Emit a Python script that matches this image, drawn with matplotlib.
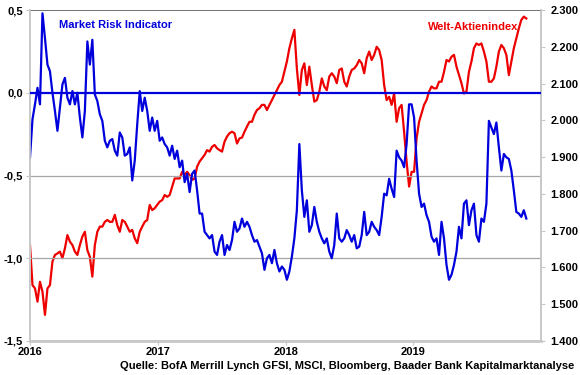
import numpy as np
import pandas as pd
import matplotlib
matplotlib.use('Agg')
import matplotlib.pyplot as plt
import matplotlib.dates as mdates

plt.rcParams['font.family'] = ['Liberation Sans', 'DejaVu Sans']
plt.rcParams['font.weight'] = 'bold'

# Market Risk Indicator (left axis), weekly readings 2016 -> Nov 2019
mri = [
    -0.39, -0.16, -0.07, 0.03, -0.07, 0.48, 0.33, 0.17, 0.13, 0.00,
    -0.11, -0.23, -0.09, 0.05, 0.09, -0.03, -0.07, 0.01, -0.07, 0.00,
    -0.15, -0.27, -0.11, 0.31, 0.17, 0.32, -0.01, -0.05, -0.13, -0.17,
    -0.29, -0.33, -0.29, -0.28, -0.35, -0.38, -0.24, -0.27, -0.38, -0.37,
    -0.33, -0.53, -0.41, -0.19, 0.01, -0.11, -0.03, -0.11, -0.23, -0.15,
    -0.23, -0.17, -0.29,
    -0.27, -0.31, -0.33, -0.38, -0.32, -0.40, -0.35, -0.45, -0.41, -0.54,
    -0.49, -0.60, -0.49, -0.47, -0.59, -0.73, -0.73, -0.84, -0.86, -0.88,
    -0.86, -0.96, -0.98, -0.90, -0.86, -0.98, -0.92, -0.95, -0.89, -0.78,
    -0.84, -0.82, -0.76, -0.81, -0.78, -0.81, -0.86, -0.90, -0.89, -0.93,
    -0.97, -1.07, -1.00, -0.98, -1.03, -0.95, -1.03, -1.08, -1.05, -1.07,
    -1.13, -1.08,
    -0.99, -0.88, -0.71, -0.31, -0.59, -0.75, -0.65, -0.84, -0.80, -0.69,
    -0.78, -0.84, -0.88, -0.91, -0.88, -0.96, -1.00, -0.92, -0.73, -0.88,
    -0.90, -0.88, -0.83, -0.86, -0.90, -0.86, -0.94, -0.93, -0.86, -0.72,
    -0.86, -0.84, -0.78, -0.81, -0.83, -0.86, -0.75, -0.61, -0.62, -0.52,
    -0.58, -0.63, -0.35, -0.39, -0.41, -0.45, -0.31, -0.07, -0.07, -0.15,
    -0.41, -0.61,
    -0.69, -0.67, -0.74, -0.78, -0.87, -0.90, -0.88, -0.98, -0.78, -0.88,
    -1.04, -1.13, -1.10, -1.04, -0.96, -0.81, -0.88, -0.67, -0.65, -0.80,
    -0.71, -0.67, -0.86, -0.90, -0.76, -0.78, -0.67, -0.17, -0.21, -0.25,
    -0.18, -0.33, -0.47, -0.37, -0.39, -0.40, -0.47, -0.59, -0.72, -0.73,
    -0.75, -0.71, -0.76,
]

# Welt-Aktienindex (right axis), same weekly dates
msci = [
    1661, 1552, 1543, 1507, 1561, 1534, 1471, 1543, 1552, 1616,
    1634, 1638, 1643, 1625, 1652, 1688, 1670, 1661, 1643, 1634,
    1661, 1684, 1697, 1647, 1629, 1575, 1661, 1697, 1711, 1711,
    1724, 1729, 1724, 1724, 1743, 1715, 1697, 1729, 1724, 1711,
    1697, 1702, 1679, 1666, 1697, 1711, 1724, 1729, 1770, 1756,
    1761, 1770, 1779,
    1783, 1797, 1792, 1797, 1820, 1842, 1842, 1842, 1860, 1851,
    1860, 1851, 1838, 1842, 1874, 1888, 1897, 1906, 1919, 1915,
    1928, 1933, 1924, 1919, 1915, 1942, 1956, 1965, 1969, 1965,
    1937, 1951, 1953, 1969, 1983, 1996, 1996, 2015, 2028, 2033,
    2042, 2042, 2028, 2042, 2055, 2069, 2082, 2096, 2105, 2132,
    2160, 2196,
    2223, 2246, 2141, 2069, 2137, 2155, 2096, 2146, 2096, 2051,
    2055, 2078, 2114, 2092, 2082, 2119, 2128, 2119, 2101, 2137,
    2141, 2105, 2092, 2119, 2137, 2141, 2150, 2164, 2155, 2128,
    2169, 2187, 2164, 2178, 2200, 2191, 2164, 2096, 2055, 2064,
    2042, 2073, 1996, 2033, 2042, 1969, 1888, 1820, 1860, 1860,
    1951, 1996,
    2019, 2042, 2055, 2078, 2092, 2087, 2087, 2105, 2105, 2132,
    2164, 2160, 2173, 2178, 2146, 2123, 2101, 2073, 2078, 2132,
    2160, 2196, 2209, 2205, 2209, 2187, 2160, 2105, 2105, 2114,
    2146, 2187, 2205, 2196, 2178, 2123, 2160, 2196, 2223, 2250,
    2273, 2282, 2277,
]

dates = pd.date_range('2016-01-01', '2019-11-20', periods=len(mri))

left_ticks = [0.5, 0.0, -0.5, -1.0, -1.5]
left_labels = ['0,5', '0,0', '-0,5', '-1,0', '-1,5']
right_ticks = [1400, 1500, 1600, 1700, 1800, 1900, 2000, 2100, 2200, 2300]
right_labels = ['1.400', '1.500', '1.600', '1.700', '1.800', '1.900',
                '2.000', '2.100', '2.200', '2.300']
years = ['2016', '2017', '2018', '2019']

blue = '#0000dd'
red = '#ee0000'
grey = '#c8c8c8'

fig = plt.figure(figsize=(5.8, 3.75), dpi=100)
ax = fig.add_axes([30 / 580, 34 / 375, 511 / 580, 331 / 375])
ax2 = ax.twinx()
ax.set_zorder(ax2.get_zorder() + 1)
ax.patch.set_visible(False)

ax2.plot(dates, msci, color=red, lw=1.6)
ax.plot(dates, mri, color=blue, lw=1.6)

ax.set_ylim(-1.5, 0.5)
ax2.set_ylim(1400, 2300)
ax.set_xlim(pd.Timestamp('2016-01-01'), pd.Timestamp('2020-01-01'))

# gridlines and zero line
for v in left_ticks[2:4]:
    ax.axhline(v, color='#a6a6a6', lw=0.9, zorder=0)
ax.axhline(left_ticks[0], color='#595959', lw=1.2, zorder=0)
ax.axhline(left_ticks[1], color=blue, lw=1.6, zorder=3)

ax.set_yticks(left_ticks)
ax.set_yticklabels(left_labels, fontsize=8, fontweight='bold')
ax2.set_yticks(right_ticks)
ax2.set_yticklabels(right_labels, fontsize=8, fontweight='bold')

ax.set_xticks([pd.Timestamp(y + '-01-01') for y in years])
ax.set_xticklabels(years, fontsize=8, fontweight='bold')

for a in (ax, ax2):
    for s in a.spines.values():
        s.set_color(grey)
        s.set_linewidth(1.2)
    a.spines['top'].set_visible(False)
ax.spines['bottom'].set_linewidth(2)
ax.tick_params(axis='y', length=3, color=grey, pad=2)
ax2.tick_params(axis='y', length=3, color=grey, pad=4)
ax.tick_params(axis='x', length=3, color=grey, pad=1)

ax.text(0.057, 0.97, 'Market Risk Indicator', transform=ax.transAxes,
        color=blue, fontsize=8, fontweight='bold', va='top')
ax.text(0.955, 0.965, 'Welt-Aktienindex', transform=ax.transAxes,
        color=red, fontsize=8, fontweight='bold', va='top', ha='right')

fig.text(0.99, 0.01, 'Quelle: BofA Merrill Lynch GFSI, MSCI, Bloomberg, Baader Bank Kapitalmarktanalyse',
         ha='right', va='bottom', fontsize=8, fontweight='bold')

fig.savefig('out.png', dpi=100)
